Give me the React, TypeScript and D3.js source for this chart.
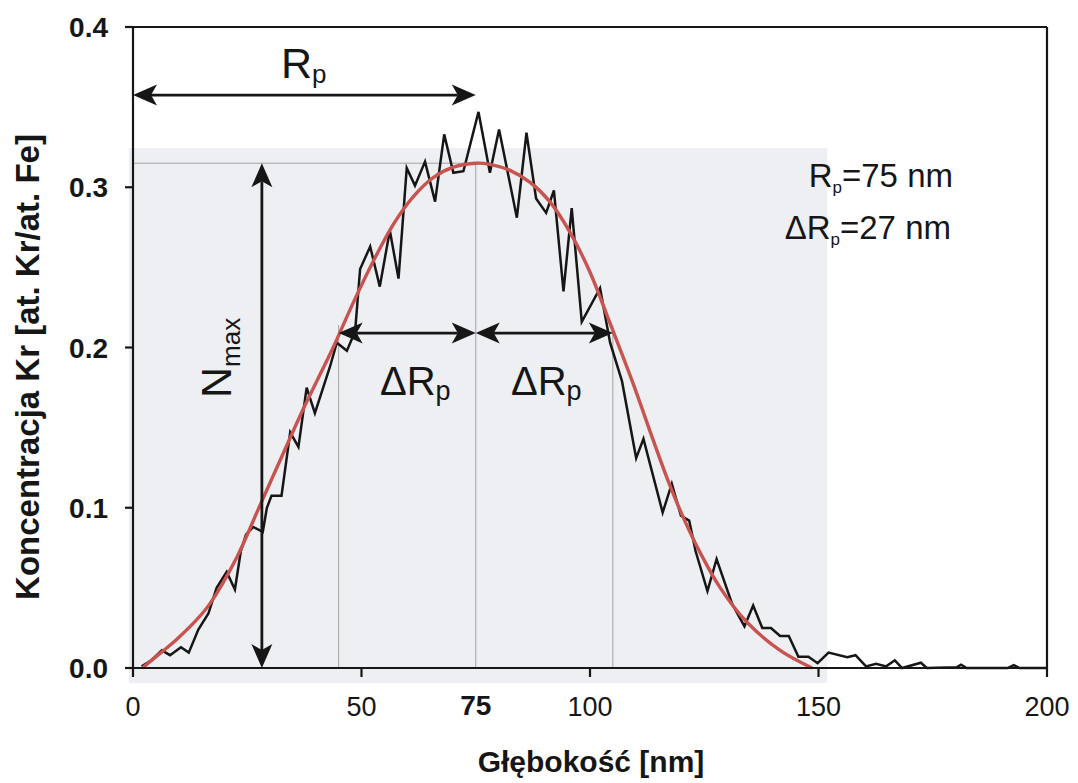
import React from "react";
import * as d3 from "d3";

// measured profile (black)
const depthNm = [
  1.9, 4.1, 6.3, 8.1, 10.5, 12.2, 14.3, 16.5, 18.3, 20.5, 22.3, 23.6, 24.7, 26.3, 28.4, 29.3, 30.3, 32.5,
  34.4, 36.2, 38.0, 39.8, 43.1, 44.6, 46.8, 48.6, 49.7, 51.9, 54.0, 56.2, 58.1, 59.9, 61.7, 63.9, 66.1,
  68.1, 70.1, 72.3, 75.6, 78.1, 80.1, 84.0, 86.1, 88.2, 90.4, 92.1, 94.2, 96.0, 98.2, 102.2, 104.4,
  107.0, 110.1, 111.7, 115.9, 117.9, 119.9, 121.7, 123.1, 125.7, 127.7, 131.1, 133.8, 135.7, 137.7,
  139.6, 141.6, 143.5, 145.6, 147.8, 149.8, 152.2, 156.3, 158.1, 160.4, 162.6, 164.8, 166.7, 168.3,
  172.4, 173.7, 180.3, 181.2, 182.4, 191.4, 192.7, 194.0, 200.0,
];
const concentration = [
  0.001, 0.005, 0.011, 0.008, 0.013, 0.0096, 0.024, 0.034, 0.05, 0.06, 0.049, 0.073, 0.083, 0.088, 0.085,
  0.1, 0.1075, 0.1075, 0.147, 0.138, 0.175, 0.159, 0.188, 0.203, 0.198, 0.21, 0.249, 0.263, 0.238, 0.273,
  0.243, 0.312, 0.301, 0.316, 0.291, 0.333, 0.309, 0.31, 0.347, 0.309, 0.336, 0.281, 0.334, 0.293, 0.284,
  0.298, 0.235, 0.287, 0.216, 0.237, 0.203, 0.179, 0.131, 0.143, 0.097, 0.115, 0.095, 0.092, 0.073, 0.048,
  0.068, 0.04, 0.026, 0.039, 0.025, 0.025, 0.02, 0.02, 0.007, 0.007, 0.003, 0.0096, 0.0068, 0.008, 0.001,
  0.0027, 0.001, 0.0048, 0.0, 0.0033, 0.0, 0.0005, 0.002, 0.0, 0.0, 0.0018, 0.0, 0.0,
];

// fitted curve (red)
const fitDepthNm = [
  2.0, 4.8, 9.6, 13.9, 16.8, 22.7, 27.4, 32.1, 36.5, 40.9, 43.8, 48.2, 52.6, 57.0, 61.3, 65.7, 70.1, 75.0,
  78.1, 82.5, 86.9, 91.2, 95.6, 100.0, 104.4, 109.5, 113.1, 116.8, 120.4, 124.1, 128.5, 134.2, 141.6, 148.6,
];
const fitConcentration = [
  0, 0.0065, 0.018, 0.03, 0.04, 0.069, 0.099, 0.129, 0.157, 0.183, 0.2, 0.228, 0.254, 0.277, 0.294, 0.306,
  0.3125, 0.315, 0.3143, 0.3105, 0.303, 0.291, 0.272, 0.247, 0.215, 0.177, 0.148, 0.119, 0.094, 0.072,
  0.05, 0.029, 0.011, 0,
];

const xTicks = [0, 50, 100, 150, 200];
const yTicks = [0, 0.1, 0.2, 0.3, 0.4];
const yTickLabels = ["0.0", "0.1", "0.2", "0.3", "0.4"];

// annotation values
const RP = 75;
const DRP_LEFT = 45;
const DRP_RIGHT = 105;
const NMAX = 0.315;
const DRP_LEVEL = 0.209;
const RP_ARROW_LEVEL = 0.3575;
const NMAX_ARROW_X = 28.2;
const SHADE = { x0: -0.9, x1: 151.9, y0: -0.0094, y1: 0.3245 };

const FONT = "'Liberation Sans', Arial, Helvetica, sans-serif";
const INK = "#161616";

function Arrow({ x1, y1, x2, y2 }: { x1: number; y1: number; x2: number; y2: number }) {
  const L = 24, Wd = 10.5, notch = 6;
  const dx = x2 - x1, dy = y2 - y1;
  const len = Math.hypot(dx, dy);
  const ux = dx / len, uy = dy / len;
  const nx = -uy, ny = ux;
  const head = (tx: number, ty: number, sx: number, sy: number) => {
    const p = [
      [tx, ty],
      [tx - sx * L + nx * Wd, ty - sy * L + ny * Wd],
      [tx - sx * (L - notch), ty - sy * (L - notch)],
      [tx - sx * L - nx * Wd, ty - sy * L - ny * Wd],
    ];
    return p.map((q) => q.join(",")).join(" ");
  };
  return (
    <g>
      <line
        x1={x1 + ux * (L - notch)}
        y1={y1 + uy * (L - notch)}
        x2={x2 - ux * (L - notch)}
        y2={y2 - uy * (L - notch)}
        stroke={INK}
        strokeWidth={2.8}
      />
      <polygon points={head(x2, y2, ux, uy)} fill={INK} />
      <polygon points={head(x1, y1, -ux, -uy)} fill={INK} />
    </g>
  );
}

export default function App() {
  const W = 1078, H = 783;
  const x = d3.scaleLinear().domain([0, 200]).range([133, 1047]);
  const y = d3.scaleLinear().domain([0, 0.4]).range([668, 27]);

  const measured = depthNm.map((d, i) => [d, concentration[i]] as [number, number]);
  const fit = fitDepthNm.map((d, i) => [d, fitConcentration[i]] as [number, number]);

  const lineM = d3
    .line<[number, number]>()
    .x((d) => x(d[0]))
    .y((d) => y(d[1]));
  const lineF = d3
    .line<[number, number]>()
    .x((d) => x(d[0]))
    .y((d) => y(d[1]))
    .curve(d3.curveCatmullRom.alpha(0.5));

  const x0 = x(0), x200 = x(200), y0 = y(0), yTop = y(0.4);

  return (
    <svg
      width={W}
      height={H}
      style={{ position: "absolute", left: 0, top: 0, background: "#fff" }}
      fontFamily={FONT}
    >
      {/* shaded scan region */}
      <rect
        x={x(SHADE.x0)}
        y={y(SHADE.y1)}
        width={x(SHADE.x1) - x(SHADE.x0)}
        height={y(SHADE.y0) - y(SHADE.y1)}
        fill="#edeff3"
      />

      {/* thin gray reference lines */}
      <g stroke="#a3a3a3" strokeWidth={1}>
        <line x1={x0} y1={y(NMAX)} x2={x(RP)} y2={y(NMAX)} />
        <line x1={x(RP)} y1={y(NMAX)} x2={x(RP)} y2={y0} />
        <line x1={x(DRP_LEFT)} y1={y(DRP_LEVEL) - 8} x2={x(DRP_LEFT)} y2={y0} />
        <line x1={x(DRP_RIGHT)} y1={y(DRP_LEVEL) - 8} x2={x(DRP_RIGHT)} y2={y0} />
      </g>

      {/* data */}
      <path d={lineM(measured) || ""} fill="none" stroke={INK} strokeWidth={2.5} strokeLinejoin="miter" />
      <path d={lineF(fit) || ""} fill="none" stroke="#c8534f" strokeWidth={3.4} />

      {/* frame & axes */}
      <g stroke={INK} strokeWidth={2.2}>
        <line x1={x0} y1={yTop} x2={x200} y2={yTop} />
        <line x1={x200} y1={yTop} x2={x200} y2={y0} />
        <line x1={x0} y1={yTop} x2={x0} y2={y0} />
        <line x1={x0} y1={y0} x2={x200} y2={y0} />
        {yTicks.map((t) => (
          <line key={"yt" + t} x1={x0 - 8} y1={y(t)} x2={x0} y2={y(t)} />
        ))}
        {xTicks.map((t) => (
          <line key={"xt" + t} x1={x(t)} y1={y0} x2={x(t)} y2={y0 + 9} />
        ))}
      </g>

      {/* tick labels */}
      <g fontSize={28} fontWeight="bold" fill={INK} textAnchor="end">
        {yTicks.map((t, i) => (
          <text key={"yl" + t} x={108} y={y(t) + 10}>
            {yTickLabels[i]}
          </text>
        ))}
      </g>
      <g fontSize={27} fill={INK} textAnchor="middle">
        {xTicks.map((t) => (
          <text key={"xl" + t} x={x(t)} y={716}>
            {String(t)}
          </text>
        ))}
      </g>
      <text x={x(RP)} y={715} fontSize={28} fontWeight="bold" textAnchor="middle" fill={INK}>
        75
      </text>

      {/* axis titles */}
      <text x={591} y={772} fontSize={30} fontWeight="bold" textAnchor="middle" fill={INK}>
        Głębokość [nm]
      </text>
      <text
        transform={`translate(39,367) rotate(-90)`}
        fontSize={33}
        fontWeight="bold"
        textAnchor="middle"
        fill={INK}
      >
        Koncentracja Kr [at. Kr/at. Fe]
      </text>

      {/* annotations */}
      <Arrow x1={x0} y1={y(RP_ARROW_LEVEL)} x2={x(RP)} y2={y(RP_ARROW_LEVEL)} />
      <text x={281} y={78} fontSize={43} fill={INK}>
        R<tspan fontSize={26} dy={5}>p</tspan>
      </text>

      <Arrow x1={x(NMAX_ARROW_X)} y1={y(NMAX)} x2={x(NMAX_ARROW_X)} y2={y0} />
      <text transform={`translate(231,398) rotate(-90)`} fontSize={43} fill={INK}>
        N<tspan fontSize={26} dy={9}>max</tspan>
      </text>

      <Arrow x1={x(DRP_LEFT)} y1={y(DRP_LEVEL)} x2={x(RP)} y2={y(DRP_LEVEL)} />
      <Arrow x1={x(RP)} y1={y(DRP_LEVEL)} x2={x(DRP_RIGHT)} y2={y(DRP_LEVEL)} />
      <text x={380} y={395} fontSize={40} fill={INK}>
        ΔR<tspan fontSize={27} dy={5}>p</tspan>
      </text>
      <text x={511} y={395} fontSize={40} fill={INK}>
        ΔR<tspan fontSize={27} dy={5}>p</tspan>
      </text>

      <g fontSize={33} fill={INK}>
        <text x={953} y={187} textAnchor="end">
          R<tspan fontSize={17} dy={6}>p</tspan>
          <tspan dy={-6}>=75 nm</tspan>
        </text>
        <text x={951} y={239} textAnchor="end">
          ΔR<tspan fontSize={17} dy={6}>p</tspan>
          <tspan dy={-6}>=27 nm</tspan>
        </text>
      </g>
    </svg>
  );
}
